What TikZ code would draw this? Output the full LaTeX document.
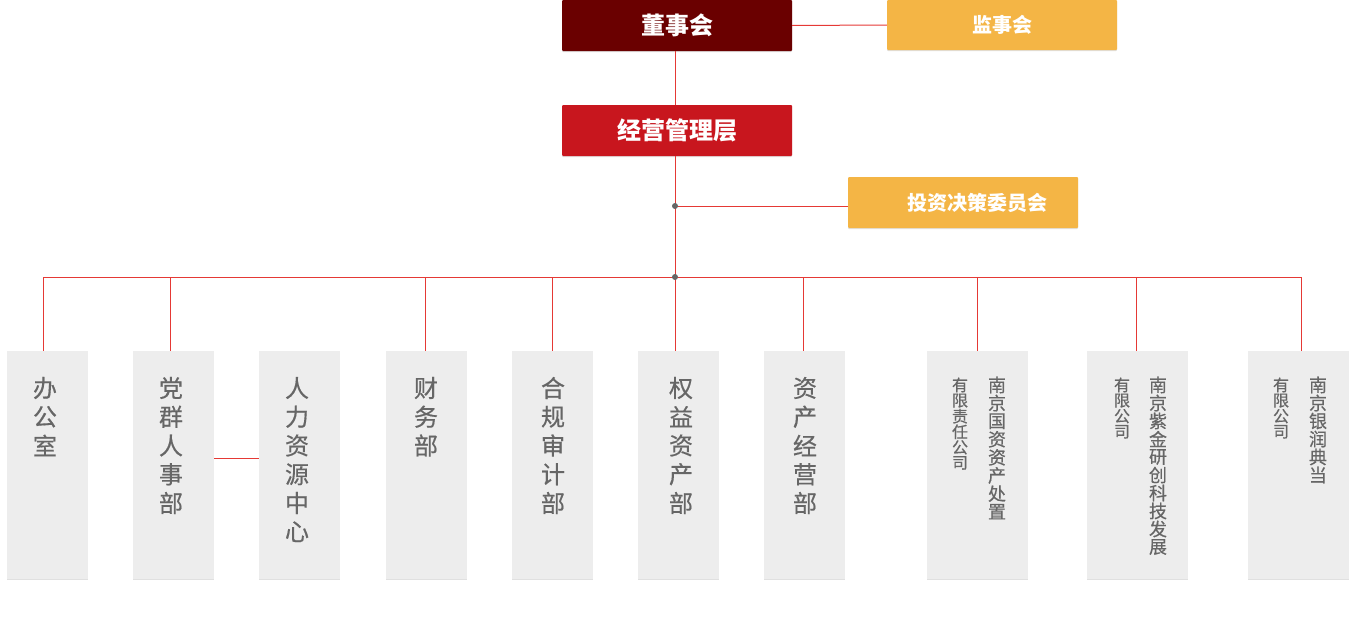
\documentclass[tikz,border=0pt]{standalone}
\usepackage{fontspec}
\newfontfamily\cjk{Noto Sans CJK SC}
\newfontfamily\cjkmid[FakeBold=0.5]{Noto Sans CJK SC}
\usetikzlibrary{shadows}
\definecolor{darkred}{HTML}{6A0000}
\definecolor{midred}{HTML}{C8161E}
\definecolor{gold}{HTML}{F4B545}
\definecolor{linered}{HTML}{E53935}
\definecolor{boxgray}{HTML}{EDEDED}
\definecolor{txtgray}{HTML}{666666}
\newcommand\vcol[6]{% name, x, y0, pitch, font size, list
  \foreach \c [count=\i from 0] in {#6}
    \node[vchar, font=\cjkmid\fontsize{#5}{#5}\selectfont] (#1-\i) at (#2, {#3+\i*#4}) {\c};}
\begin{document}
\begin{tikzpicture}[x=1pt,y=-1pt,
  shade/.style={drop shadow={shadow xshift=0pt, shadow yshift=-1.2pt, opacity=0.12, fill=black}},
  topbox/.style={shade, minimum width=230pt, minimum height=51pt, inner sep=0pt, text=white, rounded corners=1pt},
  bigtxt/.style={font=\cjk\bfseries\fontsize{24}{24}\selectfont},
  smalltxt/.style={font=\cjk\bfseries\fontsize{20}{20}\selectfont},
  deptbox/.style={shade, fill=boxgray, minimum width=81pt, minimum height=228pt, inner sep=0pt},
  compbox/.style={shade, fill=boxgray, minimum width=101pt, minimum height=228pt, inner sep=0pt},
  vchar/.style={inner sep=0pt, text=txtgray},
  link/.style={draw=linered, line width=1pt},
  dot/.style={fill=txtgray}]
\useasboundingbox (0,0) rectangle (1349,621);

% top boxes
\node[topbox, fill=darkred, bigtxt] (dsh) at (677,25.5) {董事会};
\node[topbox, fill=gold, smalltxt, minimum height=50pt] (jsh) at (1002,25) {监事会};
\node[topbox, fill=midred, bigtxt] (jy) at (677,130.5) {经营管理层};
\node[topbox, fill=gold, smalltxt] (tz) at (963,202.5) {\hspace*{29pt}投资决策委员会};

% bottom boxes
\node[deptbox] (b1) at (47.5,465) {};
\node[deptbox] (b2) at (173.5,465) {};
\node[deptbox] (b3) at (299.5,465) {};
\node[deptbox] (b4) at (426.5,465) {};
\node[deptbox] (b5) at (552.5,465) {};
\node[deptbox] (b6) at (678.5,465) {};
\node[deptbox] (b7) at (804.5,465) {};
\node[compbox] (b8) at (977.5,465) {};
\node[compbox] (b9) at (1137.5,465) {};
\node[compbox] (b10) at (1298,465) {};

% coordinates
\coordinate (bus) at (675,277);
\coordinate (d1) at (675,206);
\coordinate (busL) at (43,277);
\coordinate (busR) at (1301,277);

% connectors
\draw[link] (dsh.east) -- (jsh.west);
\draw[link] (dsh.south -| bus) -- (jy.north -| bus);
\draw[link] (jy.south -| bus) -- (b6.north -| bus);
\draw[link] (d1) -- (d1 -| tz.west);
\draw[link] (busL) -- (busR);
\draw[link] (busL) -- (b1.north -| busL);
\draw[link] ([xshift=-3.5pt]b2.north) -- ([xshift=-3.5pt]b2.north |- bus);
\draw[link] ([xshift=-1.5pt]b4.north) -- ([xshift=-1.5pt]b4.north |- bus);
\draw[link] (b5.north) -- (b5.north |- bus);
\draw[link] ([xshift=-1.5pt]b7.north) -- ([xshift=-1.5pt]b7.north |- bus);
\draw[link] ([xshift=-0.5pt]b8.north) -- ([xshift=-0.5pt]b8.north |- bus);
\draw[link] ([xshift=-1.5pt]b9.north) -- ([xshift=-1.5pt]b9.north |- bus);
\draw[link] (busR) -- (b10.north -| busR);
\draw[link] ([yshift=7pt]b2.east) -- ([yshift=7pt]b2.east -| b3.west);
\fill[dot] (d1) circle (3pt);
\fill[dot] (bus) circle (3pt);

% vertical texts
\vcol{t1}{45}{388}{28.75}{24}{办,公,室}
\vcol{t2}{171}{388}{28.75}{24}{党,群,人,事,部}
\vcol{t3}{297}{388}{28.75}{24}{人,力,资,源,中,心}
\vcol{t4}{426}{388}{28.75}{24}{财,务,部}
\vcol{t5}{553}{388}{28.75}{24}{合,规,审,计,部}
\vcol{t6}{681}{388}{28.75}{24}{权,益,资,产,部}
\vcol{t7}{805}{388}{28.75}{24}{资,产,经,营,部}
\vcol{t8r}{997}{385}{18.1}{18}{南,京,国,资,资,产,处,置}
\vcol{t8l}{960}{385}{15.6}{16}{有,限,责,任,公,司}
\vcol{t9r}{1158}{385}{18}{18}{南,京,紫,金,研,创,科,技,发,展}
\vcol{t9l}{1122}{385}{15.6}{16}{有,限,公,司}
\vcol{t10r}{1318}{385}{18}{18}{南,京,银,润,典,当}
\vcol{t10l}{1281}{385}{15.6}{16}{有,限,公,司}
\end{tikzpicture}
\end{document}
